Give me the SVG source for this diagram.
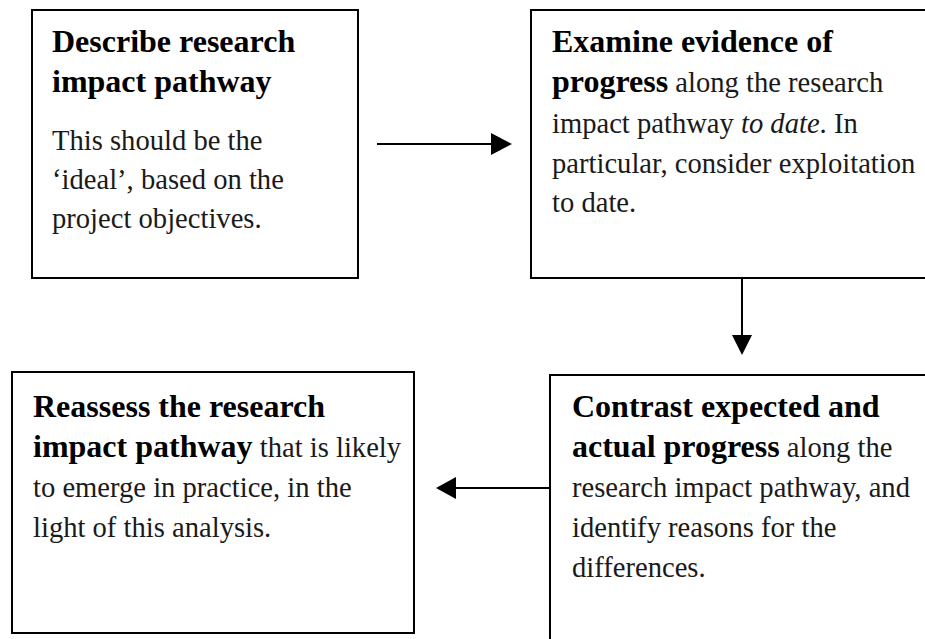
<svg xmlns="http://www.w3.org/2000/svg" width="925" height="639" viewBox="0 0 925 639">
  <style>
    .box { fill: #ffffff; stroke: #000000; stroke-width: 2; }
    .link { stroke: #000000; stroke-width: 2; fill: none; }
    .head { fill: #000000; stroke: none; }
    text { font-family: "Liberation Serif", "Times New Roman", serif; font-size: 28.6px; fill: #1a1a1a; }
    .b { font-weight: bold; font-size: 32px; fill: #000000; }
    .i { font-style: italic; }
  </style>

  <rect width="925" height="639" fill="#ffffff"/>

  <!-- step 1 -->
  <g id="describe">
    <rect class="box" x="32" y="10" width="326" height="268"/>
    <text x="52" y="52"><tspan class="b">Describe research</tspan></text>
    <text x="52" y="92"><tspan class="b">impact pathway</tspan></text>
    <text x="52" y="150">This should be the</text>
    <text x="52" y="189">‘ideal’, based on the</text>
    <text x="52" y="228">project objectives.</text>
  </g>

  <!-- step 2 -->
  <g id="examine">
    <rect class="box" x="531" y="10" width="404" height="268"/>
    <text x="552" y="52"><tspan class="b">Examine evidence of</tspan></text>
    <text x="552" y="92"><tspan class="b">progress</tspan> along the research</text>
    <text x="552" y="133">impact pathway <tspan class="i">to date</tspan>. In</text>
    <text x="552" y="173">particular, consider exploitation</text>
    <text x="552" y="212">to date.</text>
  </g>

  <!-- step 3 -->
  <g id="contrast">
    <rect class="box" x="550" y="375" width="385" height="275"/>
    <text x="572" y="417"><tspan class="b">Contrast expected and</tspan></text>
    <text x="572" y="457"><tspan class="b">actual progress</tspan> along the</text>
    <text x="572" y="497">research impact pathway, and</text>
    <text x="572" y="537">identify reasons for the</text>
    <text x="572" y="577">differences.</text>
  </g>

  <!-- step 4 -->
  <g id="reassess">
    <rect class="box" x="12" y="372" width="402" height="261"/>
    <text x="33" y="417"><tspan class="b">Reassess the research</tspan></text>
    <text x="33" y="457"><tspan class="b">impact pathway</tspan> that is likely</text>
    <text x="33" y="497">to emerge in practice, in the</text>
    <text x="33" y="537">light of this analysis.</text>
  </g>

  <!-- connectors -->
  <g id="connectors">
    <line class="link" x1="377" y1="144" x2="493" y2="144"/>
    <polygon class="head" points="491,133 512,144 491,155"/>

    <line class="link" x1="742" y1="278" x2="742" y2="337"/>
    <polygon class="head" points="732,335 752,335 742,355"/>

    <line class="link" x1="550" y1="488" x2="454" y2="488"/>
    <polygon class="head" points="456,477 436,488 456,499"/>
  </g>
</svg>
